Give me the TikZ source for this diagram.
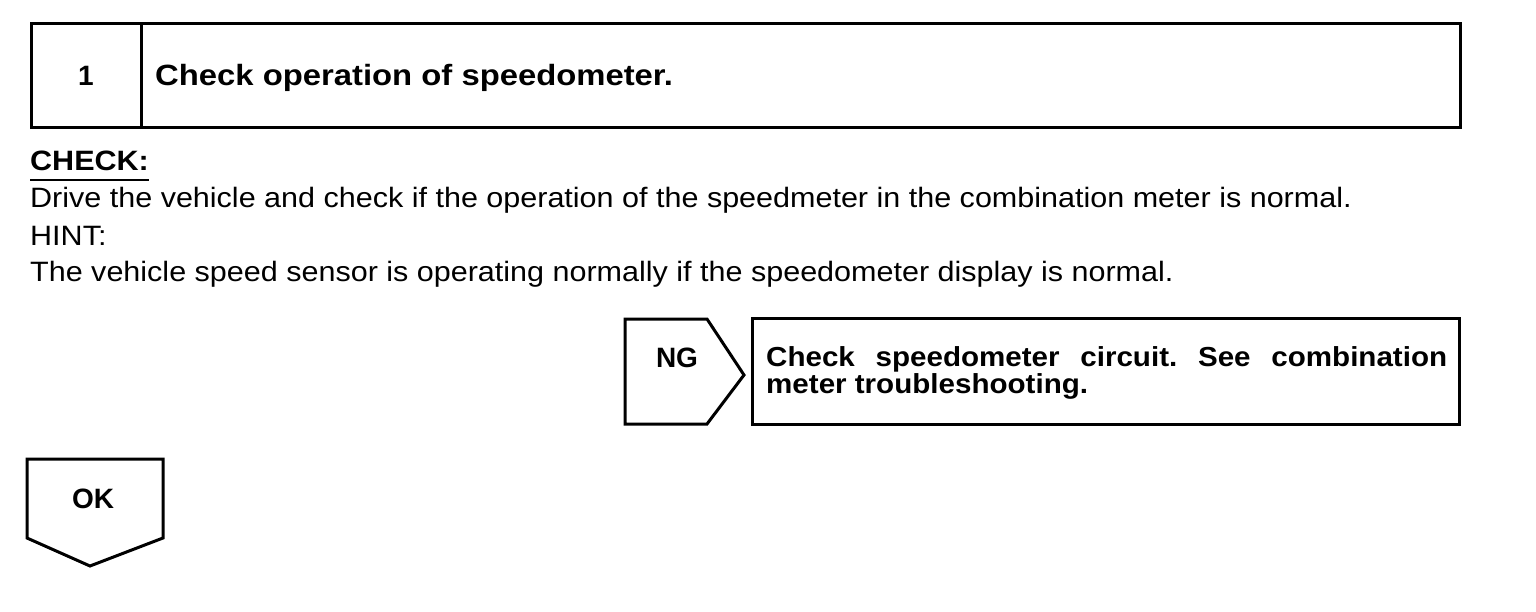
\documentclass[tikz,border=0pt]{standalone}
\usepackage{fontspec}
\setmainfont{Liberation Sans}
\newfontfamily\bodyf[FakeStretch=1.09]{Liberation Sans}
\newfontfamily\headf[FakeStretch=1.12]{Liberation Sans}
\newfontfamily\ngf[FakeStretch=1.075]{Liberation Sans}
\frenchspacing
\begin{document}
\begin{tikzpicture}[x=1pt,y=-1pt,
  frame/.style={line width=3pt, line join=miter},
  bodytxt/.style={inner sep=0pt, anchor=base west, font=\bodyf\fontsize{28}{34}\selectfont},
  boldtxt/.style={inner sep=0pt, anchor=base west, font=\bodyf\bfseries\fontsize{28}{34}\selectfont},
  headtxt/.style={inner sep=0pt, anchor=base west, font=\headf\bfseries\fontsize{29.3}{35}\selectfont},
  ngtxt/.style={inner sep=0pt, anchor=base west, font=\ngf\bfseries\fontsize{27.5}{26}\selectfont},
  tag/.style={inner sep=0pt, anchor=base, font=\bfseries\fontsize{28}{34}\selectfont}]
\useasboundingbox (0,0) rectangle (1536,612);
\fill[white] (0,0) rectangle (1536,612);

% step header box
\draw[frame] (31,24) rectangle (1460,128);
\draw[frame] (141,24) -- (141,128);
\node[tag] (num) at (86,86) {1};
\node[headtxt] (title) at (155,86) {Check operation of speedometer.};

% check text
\node[boldtxt] (chk) at (30,171) {CHECK:};
\draw[line width=2pt] ([yshift=-9pt]chk.base west) -- ([yshift=-9pt]chk.base east);
\node[bodytxt] (drive) at (30,208) {Drive the vehicle and check if the operation of the speedmeter in the combination meter is normal.};
\node[bodytxt] (hint) at (30,246) {HINT:};
\node[bodytxt] (sensor) at (30,282) {The vehicle speed sensor is operating normally if the speedometer display is normal.};

% NG branch
\draw[frame] (625,319) -- (707,319) -- (744,375) -- (707,424) -- (625,424) -- cycle;
\node[tag] (ng) at (677,367) {NG};
\draw[frame] (752,318) rectangle (1459,424);
\node[ngtxt] (ngl1) at (766,366) {\makebox[681pt][s]{Check speedometer circuit. See combination}};
\node[ngtxt] (ngl2) at (766,393) {meter troubleshooting.};

% OK branch
\draw[frame] (27,459) -- (163,459) -- (163,538) -- (90,566) -- (27,538) -- cycle;
\node[tag] (ok) at (93,508) {OK};
\end{tikzpicture}
\end{document}
